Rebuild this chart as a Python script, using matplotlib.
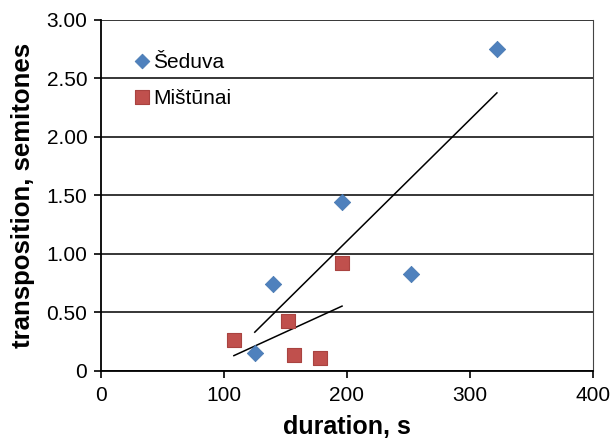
import numpy as np
import matplotlib
matplotlib.use("Agg")
import matplotlib.pyplot as plt
from matplotlib.ticker import FuncFormatter

plt.rcParams["font.family"] = ["Liberation Sans", "DejaVu Sans"]

# duration (s) vs transposition (semitones)
seduva_x = [125, 140, 196, 252, 322]
seduva_y = [0.15, 0.74, 1.44, 0.83, 2.75]
mistunai_x = [108, 152, 157, 178, 196]
mistunai_y = [0.26, 0.43, 0.14, 0.11, 0.92]

x_ticks = [0, 100, 200, 300, 400]
y_ticks = [0, 0.5, 1.0, 1.5, 2.0, 2.5, 3.0]

fig = plt.figure(figsize=(6.13, 4.40), dpi=100)
ax = fig.add_axes([0.165, 0.157, 0.802, 0.798])

ax.scatter(seduva_x, seduva_y, marker="D", s=70, color="#4F81BD",
           edgecolor="#4577B0", linewidth=0.5, zorder=3, label="Šeduva")
ax.scatter(mistunai_x, mistunai_y, marker="s", s=110, color="#C0504D",
           edgecolor="#A94340", linewidth=0.8, zorder=3, label="Mištūnai")

# linear trend lines spanning each series
for xs, ys in ((seduva_x, seduva_y), (mistunai_x, mistunai_y)):
    k, b = np.polyfit(xs, ys, 1)
    xx = np.array([min(xs), max(xs)])
    ax.plot(xx, k * xx + b, color="black", linewidth=1.1, zorder=2)

ax.set_xlim(0, 400)
ax.set_ylim(0, 3.0)
ax.set_xticks(x_ticks)
ax.set_yticks(y_ticks)
ax.yaxis.set_major_formatter(FuncFormatter(lambda v, p: "0" if v == 0 else f"{v:.2f}"))
ax.grid(axis="y", color="black", linewidth=1.1)
ax.set_axisbelow(True)

for side in ("left", "bottom"):
    ax.spines[side].set_linewidth(1.3)
ax.spines["top"].set_visible(False)
ax.spines["right"].set_linewidth(0.8)
ax.spines["right"].set_color("#444444")

ax.tick_params(axis="both", labelsize=15, length=5, width=1.2, direction="out")
ax.tick_params(axis="y", pad=5)
ax.tick_params(axis="x", pad=6)

ax.set_xlabel("duration, s", fontsize=18, fontweight="bold", labelpad=7)
ax.set_ylabel("transposition, semitones", fontsize=18.5, fontweight="bold", labelpad=8)

ax.legend(loc="upper left", bbox_to_anchor=(0.071, 0.905), frameon=False,
          fontsize=15, handletextpad=0.23, labelspacing=0.8, markerscale=0.9,
          handlelength=0.6, borderpad=0, borderaxespad=0, scatteryoffsets=[0.5])

fig.savefig("out.png", dpi=100)
